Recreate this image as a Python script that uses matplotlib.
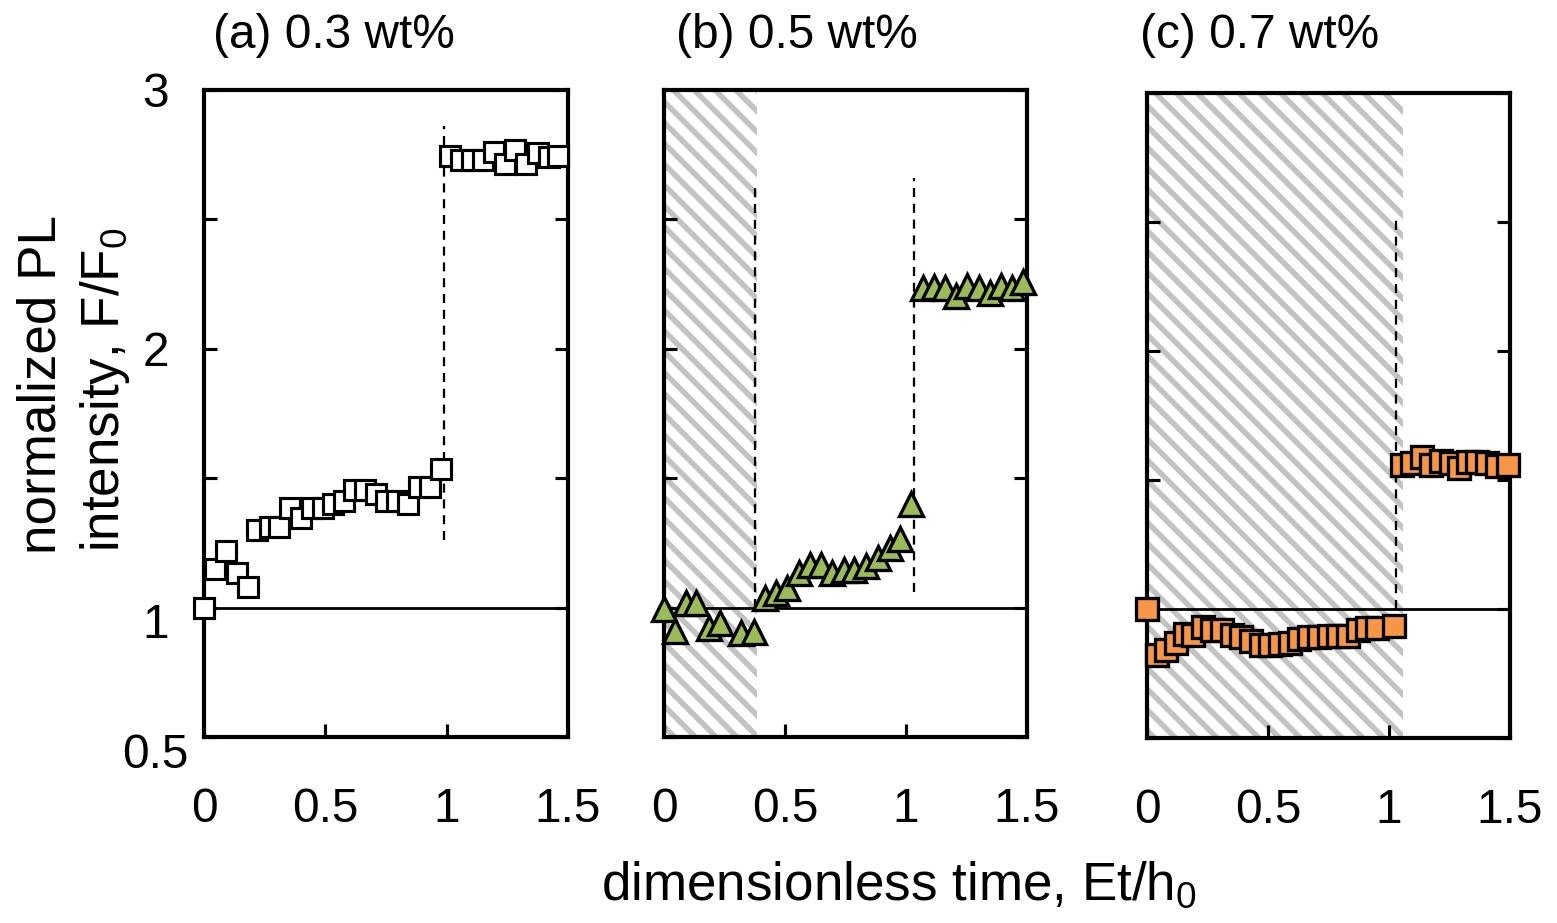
import matplotlib
matplotlib.use('Agg')
import matplotlib.pyplot as plt
import matplotlib.transforms as mtransforms
from matplotlib.ticker import FixedLocator

# ---------------- data ----------------
# (a) 0.3 wt%
xa_low = [0.0, 0.045, 0.09, 0.135, 0.18, 0.22, 0.27, 0.31, 0.355, 0.40, 0.445, 0.49,
          0.53, 0.575, 0.62, 0.665, 0.71, 0.75, 0.795, 0.84, 0.885, 0.93, 0.975]
ya_low = [1.0, 1.15, 1.22, 1.135, 1.08, 1.30, 1.31, 1.31, 1.385, 1.345, 1.385, 1.385,
          1.40, 1.41, 1.455, 1.455, 1.44, 1.41, 1.41, 1.40, 1.465, 1.465, 1.535]
xa_high = [1.015, 1.06, 1.105, 1.15, 1.195, 1.24, 1.28, 1.325, 1.375, 1.42, 1.46]
ya_high = [2.745, 2.73, 2.73, 2.73, 2.76, 2.715, 2.77, 2.715, 2.755, 2.74, 2.745]

# (b) 0.5 wt%
xb_low = [0.0, 0.044, 0.089, 0.134, 0.185, 0.23, 0.32, 0.372,
          0.417, 0.463, 0.51, 0.558, 0.604, 0.648, 0.696, 0.742, 0.787, 0.836,
          0.884, 0.932, 0.976, 1.022]
yb_low = [0.994, 0.908, 1.018, 1.018, 0.922, 0.94, 0.903, 0.905,
          1.039, 1.058, 1.075, 1.133, 1.165, 1.165, 1.133, 1.146, 1.145, 1.16,
          1.19, 1.23, 1.267, 1.40]
xb_high = [1.070, 1.114, 1.160, 1.207, 1.253, 1.301, 1.346, 1.391, 1.439, 1.485]
yb_high = [2.234, 2.24, 2.233, 2.204, 2.244, 2.234, 2.215, 2.244, 2.234, 2.257]

# (c) 0.7 wt%
xc_low = [0.0, 0.04, 0.08, 0.12, 0.155, 0.19, 0.23, 0.27, 0.31, 0.35, 0.39, 0.43,
          0.47, 0.51, 0.55, 0.59, 0.63, 0.67, 0.71, 0.75, 0.79, 0.83, 0.87, 0.91,
          0.95, 1.02]
yc_low = [1.0, 0.82, 0.84, 0.87, 0.905, 0.90, 0.93, 0.92, 0.92, 0.90, 0.89, 0.875,
          0.86, 0.862, 0.865, 0.87, 0.885, 0.89, 0.893, 0.895, 0.895, 0.897, 0.92,
          0.925, 0.925, 0.935]
xc_high = [1.055, 1.095, 1.135, 1.175, 1.215, 1.255, 1.29, 1.325, 1.365, 1.405, 1.445, 1.49]
yc_high = [1.56, 1.565, 1.59, 1.56, 1.575, 1.565, 1.545, 1.57, 1.57, 1.565, 1.555, 1.56]

titles = ['(a) 0.3 wt%', '(b) 0.5 wt%', '(c) 0.7 wt%']
xticks = [0, 0.5, 1, 1.5]
xtick_labels = ['0', '0.5', '1', '1.5']
yticks = [0.5, 1, 1.5, 2, 2.5, 3]
ytick_labels = ['0.5', '1', '', '2', '', '3']

# shaded (hatched) intervals and dashed markers: (x, y_start, y_end)
hatch_b = (0.0, 0.385)
hatch_c = (0.0, 1.058)
dashed_a = [(0.99, 1.26, 2.86)]
dashed_b = [(0.378, 1.0, 2.625), (1.034, 1.06, 2.66)]
dashed_c = [(1.028, 1.0, 2.51)]

# ---------------- style ----------------
plt.rcParams['font.family'] = ['Liberation Sans', 'DejaVu Sans']
plt.rcParams['mathtext.fontset'] = 'custom'
plt.rcParams['mathtext.rm'] = 'Liberation Sans'
plt.rcParams['hatch.linewidth'] = 3.2
plt.rcParams['hatch.color'] = '#c3c3c3'

DPI = 125
W, H = 1557, 923
fig = plt.figure(figsize=(W / DPI, H / DPI), dpi=DPI)

def box(l, r, t, b):
    return [l / W, 1 - b / H, (r - l) / W, (b - t) / H]

axes = [fig.add_axes(box(204, 568, 90, 737)),
        fig.add_axes(box(664, 1027, 90, 737)),
        fig.add_axes(box(1147, 1510, 93, 738))]

TICK_FS = 27.5
LABEL_FS = 30.5

for i, ax in enumerate(axes):
    ax.set_xlim(0, 1.5)
    ax.set_ylim(0.5, 3)
    for s in ax.spines.values():
        s.set_linewidth(2.4)
    ax.xaxis.set_major_locator(FixedLocator(xticks))
    ax.yaxis.set_major_locator(FixedLocator(yticks))
    ax.set_xticklabels(xtick_labels, fontsize=TICK_FS)
    ax.tick_params(axis='both', direction='in', length=7.5, width=1.8)
    ax.tick_params(axis='y', right=True)
    ax.tick_params(axis='x', pad=29)
    if i == 0:
        ax.set_yticklabels(ytick_labels, fontsize=TICK_FS)
        ax.tick_params(axis='y', pad=28)
        labs = ax.get_yticklabels()
        for lab in labs:
            lab.set_horizontalalignment('center')
        # the two lowest labels sit slightly below their ticks in the original
        down = mtransforms.ScaledTranslation(0, -13 / DPI, fig.dpi_scale_trans)
        for lab in labs[:2]:
            lab.set_transform(lab.get_transform() + down)
    else:
        ax.set_yticklabels([])
    ax.axhline(1.0, color='black', lw=1.6, zorder=2)

# hatched regions
for ax, (x0, x1) in [(axes[1], hatch_b), (axes[2], hatch_c)]:
    ax.axvspan(x0, x1, facecolor='white', edgecolor='#c3c3c3', hatch='\\\\',
               linewidth=0, zorder=0)

# dashed lines
for ax, dl in [(axes[0], dashed_a), (axes[1], dashed_b), (axes[2], dashed_c)]:
    for (x, y0, y1) in dl:
        ax.plot([x, x], [y0, y1], color='black', lw=1.3, ls=(0, (4, 3)), zorder=3)

# data
sq = dict(marker='s', ls='none', mec='black', zorder=5, clip_on=False)
axes[0].plot(xa_low, ya_low, mfc='white', ms=12, mew=1.8, **sq)
axes[0].plot(xa_high, ya_high, mfc='white', ms=12, mew=1.8, **sq)

tri = dict(marker='^', ls='none', mec='black', mfc='#9BBB59', ms=14, mew=1.9,
           zorder=5, clip_on=False)
axes[1].plot(xb_low, yb_low, **tri)
axes[1].plot(xb_high, yb_high, **tri)

axes[2].plot(xc_low, yc_low, mfc='#F79646', ms=13, mew=1.9, **sq)
axes[2].plot(xc_high, yc_high, mfc='#F79646', ms=13, mew=1.9, **sq)

# titles
for ax_left, t in zip([213, 676, 1140], titles):
    fig.text(ax_left / W, 1 - 35 / H, t, fontsize=TICK_FS, ha='left', va='center')

# axis labels
fig.text(42 / W, 1 - 385 / H, 'normalized PL', rotation=90, fontsize=LABEL_FS,
         ha='center', va='center')
fig.text(105 / W, 1 - 390 / H, r'intensity, F/F$\mathregular{_0}$', rotation=90,
         fontsize=LABEL_FS, ha='center', va='center')
fig.text(899 / W, 1 - 885 / H, r'dimensionless time, Et/h$\mathregular{_0}$',
         fontsize=LABEL_FS, ha='center', va='center')

fig.savefig('out.png', dpi=DPI)
